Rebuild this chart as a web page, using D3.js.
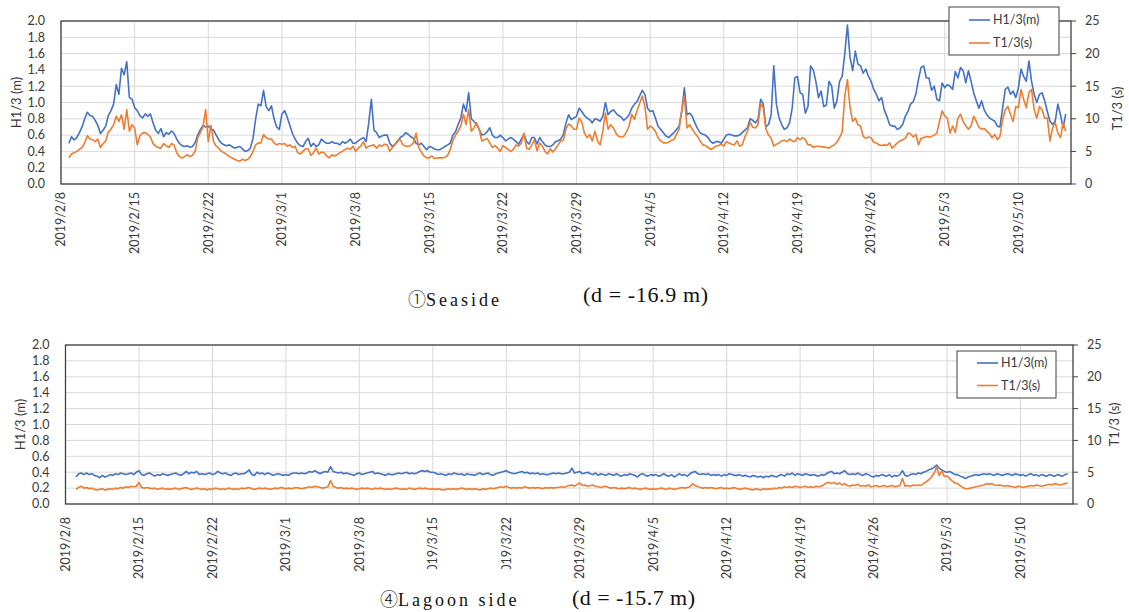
<!DOCTYPE html>
<html>
<head>
<meta charset="utf-8">
<script src="https://cdn.jsdelivr.net/npm/d3@7"></script>
<style>
  body { margin: 0; background: #fff; }
  svg { display: block; }
  text { font-family: Lato, "Open Sans", sans-serif; fill: #3a3a3a; }
</style>
</head>
<body>
<svg id="chart" width="1129" height="612"></svg>
<script>
// tick labels and ranges
const weekTicks = ["2019/2/8", "2019/2/15", "2019/2/22", "2019/3/1", "2019/3/8", "2019/3/15", "2019/3/22",
  "2019/3/29", "2019/4/5", "2019/4/12", "2019/4/19", "2019/4/26", "2019/5/3", "2019/5/10"];
const dateRange = ["2019/2/8", "2019/5/15"];
const hTicks = [0, 0.2, 0.4, 0.6, 0.8, 1.0, 1.2, 1.4, 1.6, 1.8, 2.0];
const tTicks = [0, 5, 10, 15, 20, 25];
const seriesNames = ["H1/3(m)", "T1/3(s)"];
const seriesColors = ["#4472c4", "#ed7d31"];

// 6-hourly readings
const seaStart = "2019/2/8 18:00";
const seaH = [0.50,
  0.58,0.54,0.57,0.63, 0.70,0.80,0.88,0.84, 0.83,0.78,0.72,0.62, 0.66,0.71,0.84,0.90, 0.98,1.22,1.10,1.42,
  1.34,1.50,1.06,1.04, 0.94,0.90,0.84,0.81, 0.86,0.83,0.86,0.75, 0.66,0.62,0.68,0.58, 0.63,0.61,0.65,0.62,
  0.55,0.50,0.47,0.46, 0.47,0.45,0.46,0.51, 0.60,0.67,0.72,0.70, 0.71,0.68,0.66,0.60, 0.54,0.50,0.48,0.47,
  0.48,0.46,0.44,0.45, 0.46,0.43,0.40,0.41, 0.44,0.56,0.80,0.98, 0.96,1.15,0.95,0.90, 0.96,0.80,0.70,0.67,
  0.86,0.90,0.82,0.72, 0.62,0.55,0.50,0.47, 0.46,0.52,0.56,0.46, 0.50,0.46,0.48,0.55, 0.52,0.50,0.50,0.52,
  0.50,0.50,0.48,0.52, 0.50,0.52,0.55,0.50, 0.50,0.53,0.55,0.57, 0.52,0.75,1.04,0.66, 0.63,0.57,0.59,0.60,
  0.60,0.50,0.46,0.49, 0.52,0.57,0.59,0.63, 0.61,0.58,0.56,0.50, 0.48,0.50,0.46,0.42, 0.46,0.45,0.43,0.42,
  0.42,0.44,0.46,0.48, 0.50,0.60,0.64,0.73, 0.81,0.98,0.89,1.12, 0.80,0.77,0.73,0.67, 0.60,0.61,0.64,0.69,
  0.60,0.57,0.57,0.60, 0.57,0.53,0.55,0.57, 0.55,0.52,0.49,0.55, 0.61,0.52,0.49,0.57, 0.57,0.49,0.57,0.52,
  0.48,0.46,0.46,0.48, 0.52,0.53,0.55,0.61, 0.75,0.85,0.79,0.81, 0.83,0.93,0.89,0.84, 0.81,0.79,0.75,0.80,
  0.79,0.77,0.83,1.00, 0.85,0.89,0.91,0.87, 0.84,0.82,0.78,0.81, 0.85,0.93,0.98,1.01, 1.08,1.15,1.10,0.93,
  0.89,0.90,0.81,0.71, 0.67,0.63,0.59,0.57, 0.60,0.63,0.67,0.71, 0.89,1.18,0.85,0.87, 0.83,0.75,0.68,0.63,
  0.61,0.60,0.57,0.52, 0.50,0.52,0.52,0.50, 0.55,0.60,0.61,0.60, 0.59,0.59,0.60,0.63, 0.66,0.69,0.80,0.78,
  0.75,0.79,1.04,0.98, 0.70,0.73,0.85,1.45, 0.98,0.81,0.73,0.67, 0.69,0.75,0.93,1.30, 1.32,1.12,1.10,0.87,
  0.95,1.45,1.40,1.26, 1.06,1.14,0.95,0.97, 1.26,1.20,0.93,1.02, 1.26,1.32,1.60,1.95, 1.55,1.39,1.63,1.47,
  1.45,1.36,1.41,1.32, 1.26,1.16,1.10,1.02, 1.06,0.91,0.83,0.73, 0.71,0.71,0.67,0.69, 0.73,0.83,0.89,0.98,
  1.01,1.10,1.28,1.43, 1.45,1.30,1.30,1.15, 1.20,1.04,1.02,1.24, 1.18,1.22,1.20,1.16, 1.38,1.30,1.43,1.39,
  1.24,1.39,1.26,1.12, 1.02,0.93,1.02,0.91, 0.85,0.81,0.79,0.77, 0.71,0.70,0.93,1.16, 1.19,1.10,1.14,1.06,
  1.18,1.41,1.32,1.26, 1.51,1.26,1.10,1.00, 1.10,1.12,1.02,0.89, 0.77,0.73,0.77,0.98, 0.85,0.69,0.86];
const seaT = [4.0,
  4.6,4.8,5.0,5.3, 5.6,6.3,7.4,6.9, 6.8,6.5,6.9,5.6, 6.2,6.6,8.0,8.4, 9.1,10.4,9.6,10.6,
  8.4,11.4,8.1,9.1, 8.6,6.0,7.4,7.8, 7.9,7.6,7.2,6.2, 5.8,5.6,5.5,6.2, 5.9,5.6,6.2,6.0,
  4.8,4.2,4.0,4.2, 4.5,4.2,4.4,5.0, 7.1,7.9,8.8,11.4, 6.5,9.0,6.5,5.8, 5.5,5.0,4.8,4.5,
  4.2,4.0,3.8,3.6, 3.5,3.8,3.6,3.8, 4.2,5.0,6.0,6.3, 6.3,7.6,7.1,6.9, 6.9,6.3,6.0,6.2,
  6.1,6.2,5.8,6.0, 5.6,5.8,4.8,4.6, 5.0,5.4,5.4,4.4, 4.8,5.5,4.6,4.9, 4.8,4.3,4.0,4.5,
  4.3,4.5,4.8,5.0, 5.3,5.5,5.3,5.8, 5.0,5.5,5.8,6.5, 5.5,5.8,5.9,6.0, 5.5,6.0,5.8,6.1,
  6.0,5.0,5.6,6.0, 6.7,6.8,6.0,5.8, 5.8,5.9,6.3,7.8, 5.6,4.9,4.3,4.0, 4.0,4.3,3.9,4.0,
  4.0,4.0,4.1,4.4, 5.3,6.7,7.5,8.1, 8.9,10.7,9.1,11.4, 8.1,8.6,9.4,8.4, 6.6,6.8,7.0,6.3,
  5.6,5.9,5.5,5.0, 5.9,5.6,5.3,5.0, 5.3,6.0,5.8,6.3, 7.8,5.5,5.3,6.0, 6.8,5.1,6.3,5.8,
  5.0,4.6,5.4,4.9, 5.4,6.0,6.6,6.7, 8.5,9.2,8.9,8.4, 8.4,10.1,9.5,7.8, 7.1,7.6,6.6,8.1,
  6.6,6.0,8.1,10.9, 8.4,9.1,8.6,7.8, 7.3,7.2,7.3,8.0, 8.9,10.7,9.9,11.2, 12.4,13.5,11.9,8.4,
  8.9,8.6,8.1,7.1, 6.6,6.3,6.3,6.4, 6.7,6.8,7.6,8.4, 11.2,13.5,8.6,9.1, 8.4,7.8,7.3,6.6,
  6.0,5.9,5.6,5.3, 5.5,5.8,5.9,6.1, 5.8,6.5,6.3,6.1, 6.0,6.6,5.8,6.0, 7.2,8.1,9.5,8.7,
  8.6,9.1,12.3,11.7, 8.4,7.5,7.0,5.8, 6.1,6.3,6.6,6.7, 6.5,6.9,6.6,6.5, 7.1,6.8,7.1,6.8,
  6.0,6.0,5.6,5.8, 5.8,5.7,5.7,5.6, 5.5,5.8,6.0,6.4, 7.1,8.0,13.5,16.0, 11.7,9.6,10.1,9.1,
  8.9,7.3,7.0,7.2, 7.1,6.4,6.3,6.0, 5.9,6.0,5.9,6.3, 5.5,5.9,6.3,6.6, 6.8,7.0,7.8,7.7,
  7.2,7.6,6.0,7.0, 7.1,7.3,7.2,7.3, 7.5,7.8,9.6,11.2, 10.4,10.1,7.8,8.9, 7.9,10.1,10.7,9.6,
  8.9,8.4,8.9,10.4, 9.6,8.7,8.4,8.5, 8.1,7.7,7.1,7.6, 6.8,7.3,9.9,11.4, 11.9,10.7,9.6,11.9,
  11.7,14.5,13.0,11.7, 14.0,14.5,11.4,10.1, 11.9,11.4,10.1,10.1, 6.6,8.6,9.4,7.8, 7.1,9.4,8.1];

const lagoonStart = "2019/2/9 00:00";
const lagoonH = [
  .34,.38,.39,.37, .39,.37,.38,.36, .35,.33,.36,.34, .35,.37,.36,.38, .37,.39,.38,.37,
  .38,.39,.37,.40, .42,.37,.36,.38, .39,.37,.35,.37, .36,.38,.37,.36, .37,.38,.39,.37,
  .36,.38,.41,.38, .40,.39,.41,.37, .38,.37,.38,.39, .37,.38,.41,.39, .38,.39,.37,.36,
  .38,.39,.37,.38, .38,.40,.43,.37, .36,.40,.38,.39, .37,.39,.38,.36, .37,.38,.37,.36,
  .37,.36,.38,.39, .39,.38,.39,.38, .39,.41,.40,.42, .40,.38,.40,.41, .40,.47,.41,.40,
  .39,.40,.38,.39, .38,.37,.36,.38, .39,.37,.38,.39, .40,.41,.38,.39, .38,.37,.36,.38,
  .37,.37,.38,.39, .38,.39,.40,.38, .39,.38,.39,.41, .42,.41,.42,.40, .40,.39,.37,.38,
  .37,.36,.38,.37, .39,.38,.37,.38, .36,.38,.37,.37, .36,.38,.39,.37, .38,.39,.37,.36,
  .38,.39,.40,.41, .42,.40,.39,.38, .39,.40,.41,.39, .40,.38,.39,.38, .39,.37,.38,.37,
  .37,.38,.39,.38, .39,.38,.38,.39, .40,.45,.39,.40, .41,.38,.39,.40, .38,.37,.39,.36,
  .38,.37,.36,.38, .37,.36,.38,.36, .35,.37,.36,.38, .37,.36,.34,.37, .38,.36,.35,.37,
  .36,.37,.35,.36, .38,.36,.35,.37, .34,.36,.38,.36, .37,.35,.38,.40, .41,.38,.37,.38,
  .37,.38,.36,.37, .36,.37,.35,.37, .36,.38,.37,.36, .36,.37,.35,.36, .35,.34,.36,.35,
  .34,.35,.33,.35, .34,.36,.35,.34, .36,.37,.35,.38, .37,.39,.36,.38, .37,.36,.38,.37,
  .36,.37,.36,.35, .37,.36,.38,.40, .41,.38,.39,.38, .40,.42,.38,.37, .38,.37,.39,.37,
  .36,.38,.37,.35, .34,.36,.35,.37, .36,.35,.37,.34, .36,.35,.37,.42, .36,.35,.37,.38,
  .37,.39,.38,.40, .41,.43,.44,.46, .49,.45,.43,.41, .40,.41,.39,.37, .37,.35,.34,.32,
  .34,.35,.36,.37, .36,.37,.38,.37, .38,.37,.36,.38, .37,.36,.37,.38, .37,.36,.38,.37,
  .36,.37,.35,.37, .38,.36,.37,.35, .37,.36,.35,.37, .36,.35,.37,.36, .35,.37,.38];
const lagoonT = [
  2.3,2.6,2.8,2.5, 2.6,2.4,2.5,2.3, 2.2,2.3,2.4,2.2, 2.3,2.4,2.3,2.5, 2.4,2.6,2.5,2.7,
  2.6,2.8,2.7,2.8, 3.4,2.6,2.5,2.6, 2.5,2.4,2.5,2.3, 2.4,2.5,2.3,2.4, 2.3,2.4,2.5,2.3,
  2.4,2.5,2.6,2.4, 2.3,2.4,2.5,2.4, 2.3,2.4,2.2,2.4, 2.3,2.5,2.4,2.3, 2.4,2.3,2.5,2.4,
  2.3,2.4,2.3,2.5, 2.4,2.5,2.6,2.4, 2.3,2.4,2.5,2.4, 2.5,2.4,2.3,2.4, 2.5,2.4,2.6,2.5,
  2.4,2.5,2.4,2.5, 2.6,2.5,2.4,2.5, 2.6,2.7,2.6,2.8, 2.7,2.6,2.5,2.6, 2.7,3.7,2.8,2.6,
  2.5,2.6,2.4,2.5, 2.4,2.5,2.4,2.3, 2.4,2.5,2.4,2.5, 2.4,2.3,2.5,2.4, 2.5,2.4,2.3,2.4,
  2.3,2.4,2.5,2.4, 2.3,2.4,2.3,2.5, 2.4,2.3,2.4,2.5, 2.4,2.5,2.4,2.3, 2.4,2.3,2.4,2.3,
  2.2,2.3,2.4,2.3, 2.4,2.3,2.4,2.5, 2.4,2.3,2.4,2.3, 2.4,2.3,2.2,2.4, 2.3,2.4,2.5,2.4,
  2.5,2.6,2.7,2.6, 2.8,2.6,2.5,2.6, 2.5,2.6,2.5,2.7, 2.6,2.5,2.6,2.5, 2.6,2.5,2.4,2.6,
  2.5,2.6,2.5,2.6, 2.6,2.7,2.6,2.8, 2.9,3.0,2.8,3.1, 3.3,2.9,3.0,2.8, 2.9,3.0,2.8,2.7,
  2.6,2.7,2.8,2.6, 2.5,2.6,2.5,2.4, 2.5,2.4,2.5,2.6, 2.4,2.5,2.4,2.3, 2.4,2.5,2.4,2.3,
  2.4,2.3,2.4,2.5, 2.4,2.3,2.5,2.4, 2.3,2.4,2.5,2.6, 2.5,2.6,2.7,3.2, 2.9,2.7,2.6,2.5,
  2.6,2.5,2.6,2.5, 2.4,2.5,2.6,2.4, 2.5,2.4,2.5,2.6, 2.4,2.3,2.4,2.5, 2.4,2.3,2.2,2.4,
  2.3,2.2,2.4,2.3, 2.4,2.3,2.5,2.4, 2.6,2.5,2.7,2.6, 2.7,2.6,2.8,2.7, 2.6,2.7,2.8,2.6,
  2.7,2.6,2.8,2.7, 2.8,3.0,3.3,3.4, 3.2,3.4,3.1,3.3, 3.0,3.2,2.9,2.8, 3.0,2.9,3.1,2.8,
  2.9,2.8,3.0,2.7, 2.8,2.9,2.7,2.8, 2.9,2.7,2.8,2.9, 2.7,2.8,2.9,4.0, 2.8,2.9,2.8,3.0,
  2.9,3.0,2.9,3.2, 3.5,3.8,4.2,4.8, 5.8,4.5,5.2,4.3, 4.4,4.0,3.6,3.3, 3.2,2.9,2.6,2.4,
  2.4,2.5,2.6,2.7, 2.8,2.9,3.0,3.2, 3.1,3.2,3.0,2.9, 3.0,2.9,2.8,2.9, 2.8,2.7,2.6,2.8,
  2.7,2.6,2.7,2.8, 2.9,2.8,3.0,2.9, 2.8,2.9,3.0,3.1, 3.0,3.2,3.1,3.0, 3.1,3.2,3.3];

const parseDay = d3.utcParse("%Y/%m/%d");
const parseTime = d3.utcParse("%Y/%m/%d %H:%M");
const stepMs = 6 * 3600 * 1000;

function toPoints(start, values) {
  const t0 = +parseTime(start);
  return values.map((v, i) => ({ t: new Date(t0 + i * stepMs), v }));
}

const svg = d3.select("#chart");

function drawPanel(p) {
  const g = svg.append("g");
  const x = d3.scaleUtc().domain(dateRange.map(parseDay)).range([p.left, p.right]);
  const yH = d3.scaleLinear().domain([0, 2]).range([p.bottom, p.top]);
  const yT = d3.scaleLinear().domain([0, 25]).range([p.bottom, p.top]);
  const ticks = weekTicks.map(parseDay);
  const fmt = d3.utcFormat("%Y/%-m/%-d");

  // gridlines
  g.append("g").selectAll("line").data(hTicks).join("line")
    .attr("x1", p.left).attr("x2", p.right)
    .attr("y1", d => yH(d)).attr("y2", d => yH(d))
    .attr("stroke", "#d9d9d9").attr("stroke-width", 1);
  g.append("g").selectAll("line").data(ticks).join("line")
    .attr("x1", d => x(d)).attr("x2", d => x(d))
    .attr("y1", p.top).attr("y2", p.bottom)
    .attr("stroke", "#d9d9d9").attr("stroke-width", 1);

  // series
  const lineH = d3.line().x(d => x(d.t)).y(d => yH(d.v));
  const lineT = d3.line().x(d => x(d.t)).y(d => yT(d.v));
  g.append("path").datum(toPoints(p.start, p.h))
    .attr("fill", "none").attr("stroke", seriesColors[0]).attr("stroke-width", 1.6)
    .attr("stroke-linejoin", "round").attr("d", lineH);
  g.append("path").datum(toPoints(p.start, p.t))
    .attr("fill", "none").attr("stroke", seriesColors[1]).attr("stroke-width", 1.6)
    .attr("stroke-linejoin", "round").attr("d", lineT);

  // frame
  g.append("rect")
    .attr("x", p.left).attr("y", p.top)
    .attr("width", p.right - p.left).attr("height", p.bottom - p.top)
    .attr("fill", "none").attr("stroke", "#404040").attr("stroke-width", 1.3);

  // left axis labels
  g.append("g").selectAll("text").data(hTicks).join("text")
    .attr("x", p.left - 16).attr("y", d => yH(d)).attr("dy", "0.35em")
    .attr("text-anchor", "end").style("font-size", "12.5px")
    .text(d => d.toFixed(1));

  // right axis ticks + labels
  g.append("g").selectAll("line").data(tTicks).join("line")
    .attr("x1", p.right).attr("x2", p.right + 5)
    .attr("y1", d => yT(d)).attr("y2", d => yT(d))
    .attr("stroke", "#404040").attr("stroke-width", 1);
  g.append("g").selectAll("text").data(tTicks).join("text")
    .attr("x", p.right + 14).attr("y", d => yT(d)).attr("dy", "0.35em")
    .style("font-size", "12.5px")
    .text(d => d);

  // date labels
  g.append("g").selectAll("text").data(ticks).join("text")
    .attr("transform", d => `translate(${x(d)},${p.bottom + p.labelGap}) rotate(-90)`)
    .attr("dy", "0.35em").attr("text-anchor", "end")
    .style("font-size", "12.5px")
    .text(d => fmt(d));

  // axis titles
  g.append("text")
    .attr("transform", `translate(${p.titleLeftX},${(p.top + p.bottom) / 2}) rotate(-90)`)
    .attr("dy", "0.35em").attr("text-anchor", "middle").style("font-size", "13px")
    .text("H1/3 (m)");
  g.append("text")
    .attr("transform", `translate(${p.titleRightX},${(p.top + p.bottom) / 2 + p.titleRightShift}) rotate(-90)`)
    .attr("dy", "0.35em").attr("text-anchor", "middle").style("font-size", "13px")
    .text("T1/3 (s)");

  // legend
  const lg = g.append("g").attr("transform", `translate(${p.legend[0]},${p.legend[1]})`);
  lg.append("rect").attr("width", p.legend[2]).attr("height", p.legend[3])
    .attr("fill", "#fff").attr("stroke", "#404040").attr("stroke-width", 1);
  seriesNames.forEach((name, i) => {
    const ly = p.legendRow0 + i * p.legendRowStep;
    lg.append("line").attr("x1", 20).attr("x2", 41).attr("y1", ly).attr("y2", ly)
      .attr("stroke", seriesColors[i]).attr("stroke-width", 1.6);
    lg.append("text").attr("x", 44).attr("y", ly).attr("dy", "0.35em")
      .style("font-size", "12.5px").text(name);
  });

  // caption
  if (p.mask) {
    svg.append("rect").attr("x", p.mask[0]).attr("y", p.mask[1])
      .attr("width", p.mask[2]).attr("height", p.mask[3]).attr("fill", "#fff");
  }
  const cap = svg.append("text").attr("x", p.caption[0]).attr("y", p.caption[1])
    .style("font-family", "'Liberation Serif', serif").style("font-size", "18px").style("fill", "#111");
  cap.append("tspan").style("font-family", "'Noto Sans CJK JP'").style("font-size", "18px")
    .style("font-weight", "300").text(p.captionNum);
  cap.append("tspan").style("letter-spacing", "3px").text(p.captionName);
  svg.append("text").attr("x", p.depth[0]).attr("y", p.depth[1])
    .attr("textLength", p.depth[2]).attr("lengthAdjust", "spacing")
    .style("font-family", "'Liberation Serif', serif").style("font-size", "22px").style("fill", "#111")
    .text(p.depthText);
}

drawPanel({
  left: 61, right: 1071, top: 21, bottom: 184, labelGap: 8,
  titleLeftX: 16, titleRightX: 1117, titleRightShift: 6,
  legend: [949, 7, 110, 48], legendRow0: 13, legendRowStep: 23,
  start: seaStart, h: seaH, t: seaT,
  caption: [408, 306], captionNum: "①", captionName: "Seaside",
  depth: [583, 302, 125], depthText: "(d = -16.9 m)"
});

drawPanel({
  left: 65.5, right: 1073, top: 345, bottom: 504, labelGap: 13,
  titleLeftX: 20, titleRightX: 1114, titleRightShift: 0,
  legend: [957, 351, 99, 47], legendRow0: 12, legendRowStep: 22.5,
  start: lagoonStart, h: lagoonH, t: lagoonT,
  mask: [375, 569, 160, 43],
  caption: [380, 606], captionNum: "④", captionName: "Lagoon side",
  depth: [572, 605, 123], depthText: "(d = -15.7 m)"
});
</script>
</body>
</html>
